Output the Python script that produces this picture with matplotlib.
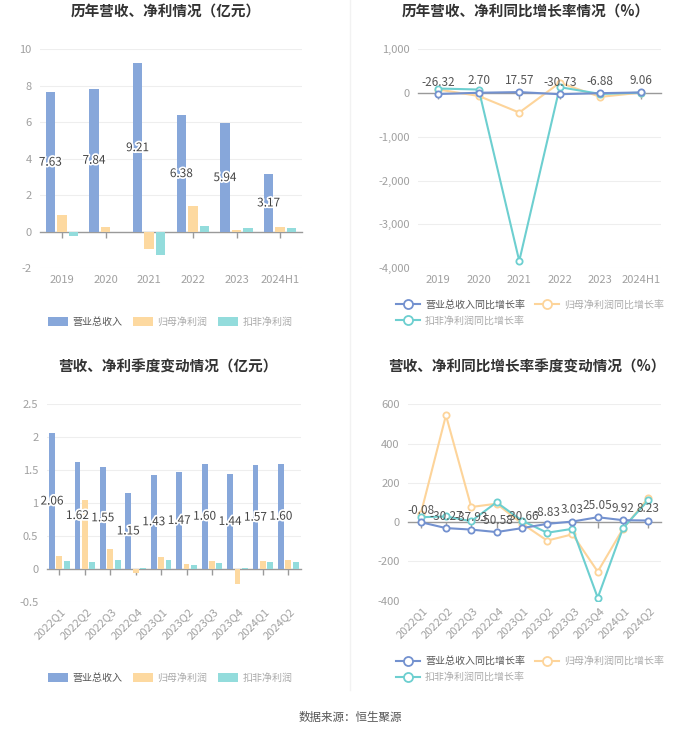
import matplotlib
matplotlib.use('Agg')
import matplotlib.pyplot as plt
import matplotlib.transforms as mtrans
import matplotlib.patheffects as pe
from matplotlib.ticker import FuncFormatter
from matplotlib.lines import Line2D
from matplotlib.patches import Patch
import numpy as np

plt.rcParams['font.family'] = ['Noto Sans CJK SC', 'DejaVu Sans']

# ---------------- data ----------------
years = ['2019', '2020', '2021', '2022', '2023', '2024H1']
rev_y = [7.63, 7.84, 9.21, 6.38, 5.94, 3.17]
np_y = [0.93, 0.27, -0.95, 1.44, 0.09, 0.26]
dnp_y = [-0.20, -0.02, -1.26, 0.35, 0.24, 0.20]

rev_gy = [-26.32, 2.70, 17.57, -30.73, -6.88, 9.06]
np_gy = [76, -71, -449, 230, -92, 5]
dnp_gy = [99, 76, -3833, 130, -25, 5]

quarters = ['2022Q1', '2022Q2', '2022Q3', '2022Q4', '2023Q1',
            '2023Q2', '2023Q3', '2023Q4', '2024Q1', '2024Q2']
rev_q = [2.06, 1.62, 1.55, 1.15, 1.43, 1.47, 1.60, 1.44, 1.57, 1.60]
np_q = [0.19, 1.05, 0.30, -0.06, 0.18, 0.07, 0.12, -0.23, 0.12, 0.14]
dnp_q = [0.12, 0.10, 0.13, 0.015, 0.13, 0.06, 0.09, 0.005, 0.10, 0.11]

rev_gq = [-0.08, -30.27, -37.93, -50.58, -30.66, -8.83, 3.03, 25.05, 9.92, 8.23]
np_gq = [40, 544, 77, 94, -7, -94, -62, -252, -33, 123]
dnp_gq = [25, 29, 5, 101, 8, -54, -34, -385, -30, 112]

bar_names = ['营业总收入', '归母净利润', '扣非净利润']
line_names = ['营业总收入同比增长率', '归母净利润同比增长率', '扣非净利润同比增长率']

titles = ['历年营收、净利情况（亿元）', '历年营收、净利同比增长率情况（%）',
          '营收、净利季度变动情况（亿元）', '营收、净利同比增长率季度变动情况（%）']
source = '数据来源：恒生聚源'

# ---------------- style ----------------
BAR_C = ['#87a7da', '#fdd9a0', '#93dcdc']
LINE_C = ['#7391cf', '#fdd49a', '#6dcfd0']
W, H = 700, 733

fig = plt.figure(figsize=(7, 7.33), dpi=100)


def frac(l, t, r, b):
    return [l / W, 1 - b / H, (r - l) / W, (b - t) / H]


ax1 = fig.add_axes(frac(40, 49, 302, 268.5))
ax2 = fig.add_axes(frac(418, 49, 661, 268.3))
ax3 = fig.add_axes(frac(46.7, 404.3, 301, 601.7))
ax4 = fig.add_axes(frac(408, 404.3, 661, 600.7))


def style(ax, ylim, yticks, fmt, cats, rot):
    ax.set_ylim(ylim)
    ax.set_yticks(yticks)
    ax.yaxis.set_major_formatter(FuncFormatter(fmt))
    ax.set_xlim(-0.5, len(cats) - 0.5)
    for s in ['top', 'right', 'left']:
        ax.spines[s].set_visible(False)
    ax.spines['bottom'].set_position(('data', 0))
    ax.spines['bottom'].set_color('#9a9a9a')
    ax.spines['bottom'].set_linewidth(1)
    ax.spines['bottom'].set_zorder(1.5)
    ax.set_xticks(range(len(cats)))
    ax.tick_params(axis='x', length=4, color='#9a9a9a', labelbottom=False,
                   direction='out', width=1)
    ax.tick_params(axis='y', length=0, labelcolor='#a0a0a0', labelsize=8, pad=6)
    ax.grid(axis='y', color='#eeeeee', lw=0.8)
    ax.set_axisbelow(True)
    trans = mtrans.blended_transform_factory(ax.transData, ax.transAxes)
    for i, c in enumerate(cats):
        if rot:
            ax.text(i + 0.05, -0.025, c, transform=trans, rotation=45, ha='right',
                    va='top', rotation_mode='anchor', fontsize=8, color='#a0a0a0')
        else:
            ax.text(i, -0.03, c, transform=trans, ha='center', va='top',
                    fontsize=8, color='#a0a0a0')


def fmt_int(v, p):
    return f'{v:,.0f}'


def fmt_q(v, p):
    return f'{v:g}'


# ---- bar charts ----
def bars(ax, cats, series, bw, step):
    x = np.arange(len(cats))
    for k, vals in enumerate(series):
        ax.bar(x + (k - 1) * step, vals, width=bw, color=BAR_C[k], zorder=2)
    for i, v in enumerate(series[0]):
        ax.text(x[i] - step, v / 2, f'{v:.2f}', ha='center', va='center',
                fontsize=8.5, color='#444444', zorder=5,
                path_effects=[pe.withStroke(linewidth=2.5, foreground='white')])


style(ax1, (-2, 10), [-2, 0, 2, 4, 6, 8, 10], fmt_q, years, False)
bars(ax1, years, [rev_y, np_y, dnp_y], 0.215, 0.265)

style(ax3, (-0.5, 2.5), [-0.5, 0, 0.5, 1, 1.5, 2, 2.5], fmt_q, quarters, True)
bars(ax3, quarters, [rev_q, np_q, dnp_q], 0.23, 0.29)


# ---- line charts ----
def lines(ax, cats, series):
    x = np.arange(len(cats))
    order = [1, 2, 0]
    for k in order:
        ax.plot(x, series[k], color=LINE_C[k], lw=1.5, marker='o', markersize=4.5,
                mfc='white', mec=LINE_C[k], mew=1.3, zorder=3 + (k == 0))
    for i, v in enumerate(series[0]):
        ax.annotate(f'{v:.2f}', (x[i], v), xytext=(0, 8.5), textcoords='offset points',
                    ha='center', va='center', fontsize=8.5, color='#555555', zorder=6)


style(ax2, (-4000, 1000), [-4000, -3000, -2000, -1000, 0, 1000], fmt_int, years, False)
lines(ax2, years, [rev_gy, np_gy, dnp_gy])

style(ax4, (-400, 600), [-400, -200, 0, 200, 400, 600], fmt_int, quarters, True)
lines(ax4, quarters, [rev_gq, np_gq, dnp_gq])

# ---- titles ----
title_pos = [(166, 12), (526, 12), (168, 367), (527, 367)]
for t, (px, py) in zip(titles, title_pos):
    fig.text(px / W, 1 - py / H, t, ha='center', va='center', fontsize=10.5,
             fontweight='bold', color='#333333')

# ---- legends ----
def bar_legend(y):
    handles = [Patch(facecolor=BAR_C[k], edgecolor='none') for k in range(3)]
    leg = fig.legend(handles, bar_names, loc='center', bbox_to_anchor=(0.243, 1 - y / H),
                     ncol=3, frameon=False, fontsize=7.2, handlelength=2.0,
                     handleheight=1.0, columnspacing=1.0, handletextpad=0.5)
    for k, t in enumerate(leg.get_texts()):
        t.set_color('#555555' if k == 0 else '#aaaaaa')


def line_legend(y):
    handles = [Line2D([], [], color=LINE_C[k], lw=1.5, marker='o', markersize=6.5,
                      mfc='white', mec=LINE_C[k], mew=1.3) for k in range(3)]
    order = [0, 2, 1]
    leg = fig.legend([handles[k] for k in order], [line_names[k] for k in order],
                     loc='center', bbox_to_anchor=(0.757, 1 - y / H), ncol=2,
                     frameon=False, fontsize=7.2, handlelength=2.4,
                     columnspacing=1.0, handletextpad=0.5, labelspacing=0.6)
    for k, t in zip(order, leg.get_texts()):
        t.set_color('#555555' if k == 0 else '#aaaaaa')


bar_legend(322)
bar_legend(678)
line_legend(313)
line_legend(669)

# separator and source
fig.add_artist(Line2D([0.5, 0.5], [1 - 690 / H, 1], transform=fig.transFigure,
                      color='#f2f2f2', lw=1))
fig.text(0.5, 1 - 717 / H, source, ha='center', va='center', fontsize=8.3,
         color='#555555')

fig.savefig('out.png', dpi=100, facecolor='white')
